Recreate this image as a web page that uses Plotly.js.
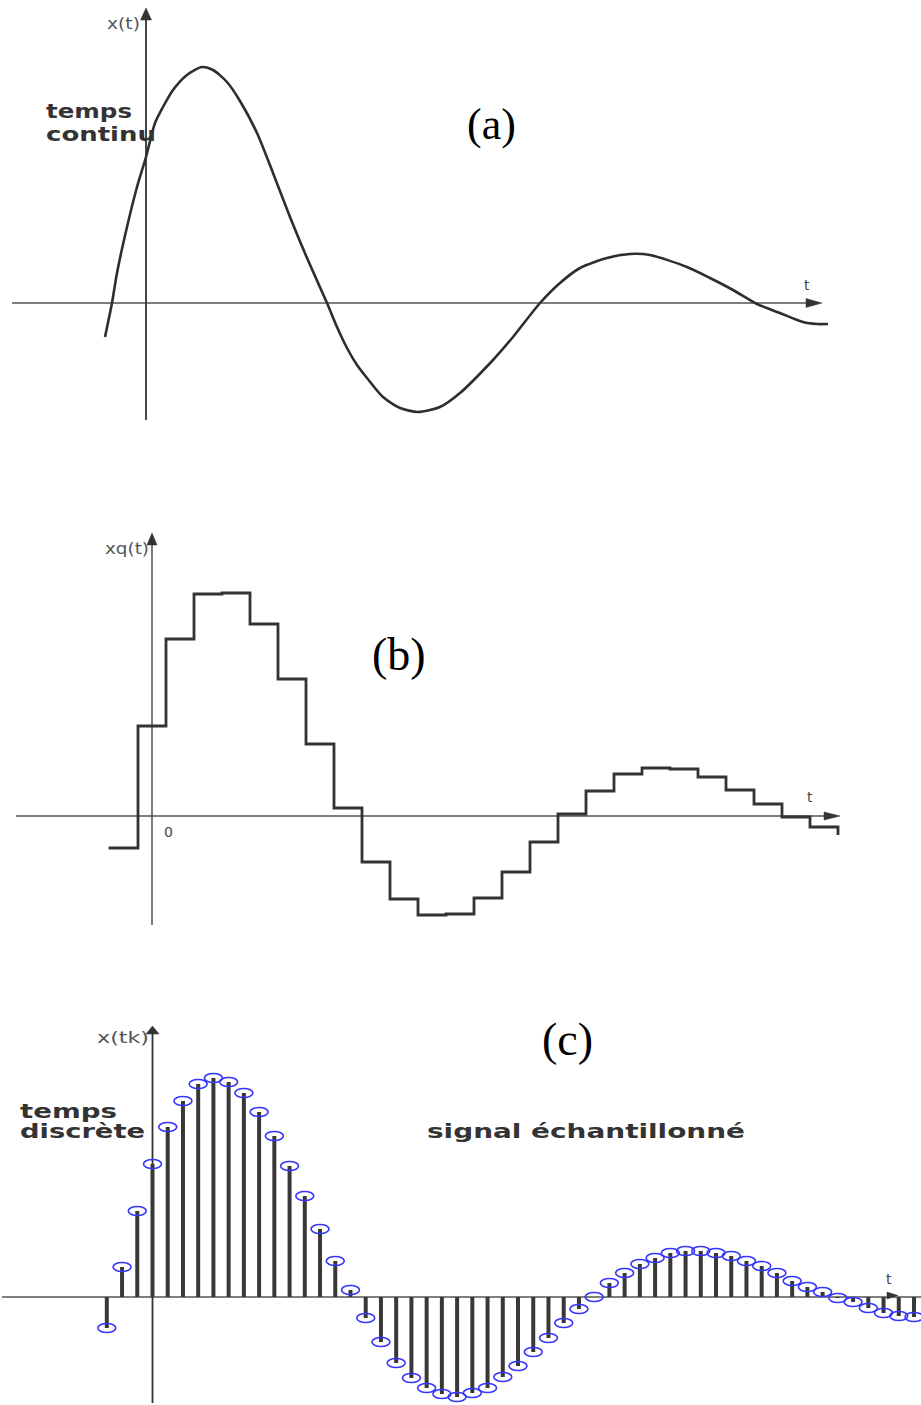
<!DOCTYPE html>
<html>
<head>
<meta charset="utf-8">
<script src="https://cdn.plot.ly/plotly-3.0.1.min.js"></script>
<style>html,body{margin:0;padding:0;background:#fff;}</style>
</head>
<body>
<div id="chart" style="width:921px;height:1405px"></div>
<script>
// (a) continuous-time signal x(t)
const tContinu = [-0.41, -0.34, -0.29, -0.19, -0.09, 0.00, 0.09, 0.17, 0.27, 0.41, 0.56, 0.67, 0.81, 0.94,
  1.11, 1.27, 1.44, 1.61, 1.81, 1.91, 2.01, 2.11, 2.21, 2.37, 2.54, 2.72, 2.94, 3.14, 3.47, 3.67, 3.94, 4.14, 4.34,
  4.61, 4.84, 5.04, 5.41, 5.64, 5.87, 6.11, 6.34, 6.57, 6.71, 6.82];
const xContinu = [-0.34, 0.00, 0.30, 0.76, 1.16, 1.46, 1.80, 1.96, 2.13, 2.28, 2.36, 2.33, 2.21, 2.02,
  1.70, 1.30, 0.86, 0.45, 0.00, -0.24, -0.45, -0.62, -0.75, -0.94, -1.05, -1.09, -1.04, -0.90, -0.57, -0.34, 0.00, 0.20, 0.35,
  0.45, 0.49, 0.48, 0.36, 0.25, 0.13, -0.01, -0.10, -0.19, -0.21, -0.21];

// (b) held signal xq(t): left edge of each hold interval (in sample periods) and its level
const qEdges = [-1.55, -0.5, 0.5, 1.5, 2.5, 3.5, 4.5, 5.5, 6.5, 7.5, 8.5, 9.5, 10.5, 11.5, 12.5,
  13.5, 14.5, 15.5, 16.5, 17.5, 18.5, 19.5, 20.5, 21.5, 22.5, 23.5, 24.5];
const qLevels = [-0.32, 0.90, 1.77, 2.22, 2.23, 1.92, 1.37, 0.72, 0.08, -0.46, -0.83, -0.99, -0.98, -0.82, -0.56,
  -0.26, 0.02, 0.25, 0.42, 0.48, 0.47, 0.39, 0.26, 0.12, -0.01, -0.11, -0.19];

// (c) sampled signal x(tk): sample index k and value
const kIndex = [-3, -2, -1, 0, 1, 2, 3, 4, 5, 6, 7, 8, 9, 10, 11, 12, 13, 14, 15, 16, 17, 18, 19, 20,
  21, 22, 23, 24, 25, 26, 27, 28, 29, 30, 31, 32, 33, 34, 35, 36, 37, 38, 39, 40, 41, 42, 43, 44, 45,
  46, 47, 48, 49, 50];
const xSamples = [-0.31, 0.30, 0.86, 1.33, 1.70, 1.96, 2.13, 2.19, 2.15, 2.04, 1.85, 1.61, 1.31, 1.01,
  0.68, 0.36, 0.07, -0.21, -0.45, -0.66, -0.81, -0.91, -0.97, -1.00, -0.96, -0.91, -0.80, -0.69, -0.55,
  -0.41, -0.26, -0.12, 0.00, 0.14, 0.24, 0.33, 0.39, 0.44, 0.46, 0.46, 0.44, 0.41, 0.36, 0.31, 0.24,
  0.16, 0.10, 0.05, -0.01, -0.05, -0.11, -0.16, -0.19, -0.20];

// Page geometry (pixels): origin of each panel's axes, pixels per unit, vertical band
const W = 921, H = 1405;
const geo = {
  a: {ref: '',  ox: 146,   oy: 303,  sx: 100,   sy: 100, top: 0,    bottom: 440},
  b: {ref: '2', ox: 152,   oy: 816,  sx: 28,    sy: 100, top: 470,  bottom: 940},
  c: {ref: '3', ox: 152.5, oy: 1297, sx: 15.23, sy: 100, top: 1000, bottom: 1405}
};
const dx = (g, px) => (px - g.ox) / g.sx;
const dy = (g, py) => (g.oy - py) / g.sy;

function axes(g) {
  return [
    {visible: false, anchor: 'y' + g.ref, domain: [0, 1], range: [dx(g, 0), dx(g, W)], fixedrange: true},
    {visible: false, anchor: 'x' + g.ref, domain: [1 - g.bottom / H, 1 - g.top / H],
     range: [dy(g, g.bottom), dy(g, g.top)], fixedrange: true}
  ];
}

const ink = '#2e2e2e';
const shapes = [];

function hAxis(g, fromPx, toPx, color, width) {
  shapes.push({type: 'line', xref: 'x' + g.ref, yref: 'y' + g.ref, layer: 'below',
    x0: dx(g, fromPx), x1: dx(g, toPx), y0: 0, y1: 0, line: {color: color, width: width}});
}
function vAxis(g, fromPy, toPy, color, width) {
  shapes.push({type: 'line', xref: 'x' + g.ref, yref: 'y' + g.ref, layer: 'below',
    x0: 0, x1: 0, y0: dy(g, fromPy), y1: dy(g, toPy), line: {color: color, width: width}});
}
function headRight(g, tipPx, len, half, lift) {
  shapes.push({type: 'path', xref: 'x' + g.ref, yref: 'y' + g.ref, xsizemode: 'pixel', ysizemode: 'pixel',
    xanchor: dx(g, tipPx), yanchor: 0,
    path: `M0,${lift} L${-len},${half + lift} L${-len},${-half + lift} Z`,
    fillcolor: '#333', line: {color: '#333', width: 0.5}});
}
function headUp(g, tipPy, len, half) {
  shapes.push({type: 'path', xref: 'x' + g.ref, yref: 'y' + g.ref, xsizemode: 'pixel', ysizemode: 'pixel',
    xanchor: 0, yanchor: dy(g, tipPy),
    path: `M0,0 L${-half},${-len} L${half},${-len} Z`,
    fillcolor: '#333', line: {color: '#333', width: 0.5}});
}

// axes of panel (a)
hAxis(geo.a, 12, 812, '#555', 1.4);
vAxis(geo.a, 420, 14, '#333', 1.8);
headRight(geo.a, 822, 16, 4.5, 0);
headUp(geo.a, 8, 12, 5.5);
// axes of panel (b)
hAxis(geo.b, 16, 830, '#555', 1.4);
vAxis(geo.b, 925, 540, '#444', 1.4);
headRight(geo.b, 840, 16, 4, 0);
headUp(geo.b, 533, 12, 5);
// axes of panel (c)
hAxis(geo.c, 2, W, '#555', 1.4);
vAxis(geo.c, 1403, 1030, '#333', 1.8);
headUp(geo.c, 1026, 8, 6.5);
headRight(geo.c, 898, 11, 3.5, 1.5);

// open elliptical sample markers of panel (c)
kIndex.forEach((k, i) => {
  shapes.push({type: 'circle', xref: 'x3', yref: 'y3', xsizemode: 'pixel', ysizemode: 'pixel',
    xanchor: k, yanchor: xSamples[i], x0: -9, x1: 9, y0: -4.5, y1: 4.5,
    line: {color: '#3535ff', width: 1.6}});
});

// stems of panel (c)
const stemX = [], stemY = [];
kIndex.forEach((k, i) => { stemX.push(k, k, null); stemY.push(0, xSamples[i], null); });

const traces = [
  {type: 'scatter', mode: 'lines', x: tContinu, y: xContinu, xaxis: 'x', yaxis: 'y',
   line: {color: ink, width: 2.6, shape: 'spline', smoothing: 0.7}, hoverinfo: 'skip'},
  {type: 'scatter', mode: 'lines', x: qEdges, y: qLevels, xaxis: 'x2', yaxis: 'y2',
   line: {color: '#333', width: 2.8, shape: 'hv'}, hoverinfo: 'skip'},
  {type: 'scatter', mode: 'lines', x: stemX, y: stemY, xaxis: 'x3', yaxis: 'y3',
   line: {color: '#383838', width: 4}, hoverinfo: 'skip'}
];

// text labels: page position (px), anchor, font, and optional drawn width
const sans = 'DejaVu Sans', serif = 'Liberation Serif';
const labels = [
  {text: 'x(t)', x: 105, y: 24, anchor: 'left', family: sans, size: 15, color: '#555', width: 33},
  {text: 't', x: 807, y: 285, anchor: 'center', family: sans, size: 14, color: '#444'},
  {text: '<b>temps</b>', x: 44, y: 111, anchor: 'left', family: sans, size: 19, color: '#333', width: 86},
  {text: '<b>continu</b>', x: 44, y: 134, anchor: 'left', family: sans, size: 19, color: '#333', width: 110},
  {text: '(a)', x: 491, y: 124, anchor: 'center', family: serif, size: 44, color: '#000'},
  {text: 'xq(t)', x: 103, y: 549, anchor: 'left', family: sans, size: 15, color: '#555', width: 44},
  {text: '0', x: 168, y: 832, anchor: 'center', family: sans, size: 14, color: '#444'},
  {text: 't', x: 810, y: 797, anchor: 'center', family: sans, size: 14, color: '#444'},
  {text: '(b)', x: 399, y: 655, anchor: 'center', family: serif, size: 46, color: '#000'},
  {text: 'x(tk)', x: 95, y: 1038, anchor: 'left', family: sans, size: 15, color: '#555', width: 52},
  {text: '<b>temps</b>', x: 18, y: 1111, anchor: 'left', family: sans, size: 19, color: '#333', width: 97},
  {text: '<b>discrète</b>', x: 18, y: 1131, anchor: 'left', family: sans, size: 19, color: '#333', width: 125},
  {text: '<b>signal échantillonné</b>', x: 425, y: 1131, anchor: 'left', family: sans, size: 19, color: '#333', width: 318},
  {text: '(c)', x: 567, y: 1039, anchor: 'center', family: serif, size: 46, color: '#000'},
  {text: 't', x: 889, y: 1279, anchor: 'center', family: sans, size: 14, color: '#444'}
];
const annotations = labels.map(l => ({
  text: l.text, showarrow: false, xref: 'paper', yref: 'paper',
  x: l.x / W, y: 1 - l.y / H, xanchor: l.anchor, yanchor: 'middle', align: l.anchor === 'left' ? 'left' : 'center',
  font: {family: l.family, size: l.size, color: l.color}
}));

const [xa, ya] = axes(geo.a), [xb, yb] = axes(geo.b), [xc, yc] = axes(geo.c);
const layout = {
  width: W, height: H, margin: {l: 0, r: 0, t: 0, b: 0},
  paper_bgcolor: '#fff', plot_bgcolor: 'rgba(0,0,0,0)', showlegend: false,
  xaxis: xa, yaxis: ya, xaxis2: xb, yaxis2: yb, xaxis3: xc, yaxis3: yc,
  shapes: shapes, annotations: annotations
};

Plotly.newPlot('chart', traces, layout, {staticPlot: true, displayModeBar: false}).then(gd => {
  // widen the sans labels to their set widths
  gd.querySelectorAll('g.annotation').forEach(g => {
    const l = labels[+g.getAttribute('data-index')];
    if (!l || !l.width) return;
    const t = g.querySelector('text.annotation-text');
    if (t) {
      t.setAttribute('textLength', l.width);
      t.setAttribute('lengthAdjust', 'spacingAndGlyphs');
    }
  });
});
</script>
</body>
</html>
